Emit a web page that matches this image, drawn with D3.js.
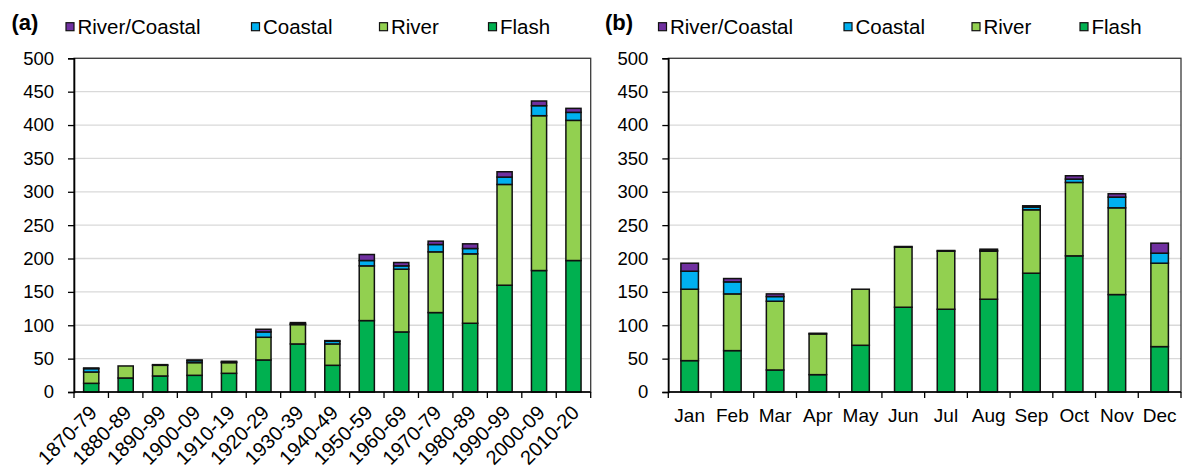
<!DOCTYPE html>
<html><head><meta charset="utf-8">
<script src="https://cdn.jsdelivr.net/npm/d3@7"></script>
<style>body{margin:0;background:#fff;}svg{display:block;font-family:"Liberation Sans",Arial,sans-serif;}</style>
</head><body><svg id="c" width="1186" height="468"></svg>
<script>
const seriesNames = ["Flash","River","Coastal","River/Coastal"];
const legendOrder = ["River/Coastal","Coastal","River","Flash"];
const colors = {"Flash":"#00B050","River":"#92D050","Coastal":"#00B0F0","River/Coastal":"#7030A0"};
const yTicks = [0,50,100,150,200,250,300,350,400,450,500];

const decades = ["1870-79","1880-89","1890-99","1900-09","1910-19","1920-29","1930-39","1940-49","1950-59","1960-69","1970-79","1980-89","1990-99","2000-09","2010-20"];
const flashA   = [13,21,24,25,28,48,72,40,107,90,119,103,160,182,197];
const riverA   = [17,18,16,19,16,34,29,32,82,94,91,104,151,232,210];
const coastalA = [5,0,0,3,1,8,1,4,8,5,11,8,11,15,12];
const rcA      = [1,0,1,1,1,4,2,1,9,5,5,7,8,7,6];

const months = ["Jan","Feb","Mar","Apr","May","Jun","Jul","Aug","Sep","Oct","Nov","Dec"];
const flashB   = [47,62,33,26,70,127,124,139,178,204,146,68];
const riverB   = [107,85,103,61,84,90,87,72,95,110,130,125];
const coastalB = [27,18,7,1,0,1,1,1,4,5,16,15];
const rcB      = [12,5,4,0,0,0,0,2,2,5,5,15];

const svg = d3.select("#c");

function panel(cfg){
  const {cats, vals, left, right, top, bottom, pad, tag, tagX, legX, rotate} = cfg;
  const g = svg.append("g");
  const x = d3.scaleBand().domain(cats).range([left,right]).paddingInner(pad).paddingOuter(pad/2);
  const y = d3.scaleLinear().domain([0,500]).range([bottom,top]);
  // gridlines
  g.append("g").selectAll("line").data(yTicks.filter(d=>d>0)).join("line")
    .attr("x1",left).attr("x2",right).attr("y1",d=>y(d)).attr("y2",d=>y(d))
    .attr("stroke","#d9d9d9").attr("stroke-width",1.3);
  // frame
  g.append("rect").attr("x",left).attr("y",top).attr("width",right-left).attr("height",bottom-top)
    .attr("fill","none").attr("stroke","#3a3a3a").attr("stroke-width",1.3);
  // bars
  const table = cats.map((c,i)=>{const o={cat:c}; seriesNames.forEach(s=>o[s]=vals[s][i]); return o;});
  const stacked = d3.stack().keys(seriesNames)(table);
  g.append("g").selectAll("g").data(stacked).join("g")
    .attr("fill",d=>colors[d.key])
    .selectAll("rect").data(d=>d).join("rect")
    .attr("x",d=>x(d.data.cat)).attr("width",x.bandwidth())
    .attr("y",d=>y(d[1])).attr("height",d=>y(d[0])-y(d[1]))
    .attr("stroke","#111").attr("stroke-width",1.5);
  // y axis
  const ya = d3.axisLeft(y).tickValues(yTicks).tickSize(6).tickPadding(14);
  const yg = g.append("g").attr("transform",`translate(${left},0)`).call(ya);
  yg.select(".domain").attr("stroke","#000").attr("stroke-width",1.6);
  yg.selectAll(".tick line").attr("stroke","#000").attr("stroke-width",1.3);
  yg.selectAll("text").attr("font-size","18.5px").attr("fill","#000").attr("font-family","Liberation Sans, Arial");
  // x axis line and ticks at boundaries
  g.append("line").attr("x1",left).attr("x2",right).attr("y1",bottom).attr("y2",bottom).attr("stroke","#000").attr("stroke-width",1.6);
  const bounds = cats.map(c=>x(c)-x.step()*pad/2).concat([right]);
  g.append("g").selectAll("line").data(bounds).join("line")
    .attr("x1",d=>d).attr("x2",d=>d).attr("y1",bottom).attr("y2",bottom+6).attr("stroke","#000").attr("stroke-width",1.3);
  // x labels
  const lab = g.append("g").selectAll("text").data(cats).join("text")
    .attr("font-size", rotate ? "20px" : "19px").attr("fill","#000").text(d=>d);
  if(rotate){
    lab.attr("text-anchor","end")
      .attr("transform",d=>`translate(${x(d)+x.bandwidth()/2+7},${bottom+22}) rotate(-45)`);
  } else {
    lab.attr("text-anchor","middle").attr("x",d=>x(d)+x.bandwidth()/2).attr("y",bottom+30);
  }
  // tag
  g.append("text").attr("x",tagX).attr("y",30).attr("font-size","22px").attr("font-weight","bold").text(tag);
  // legend
  const lg = g.append("g");
  legendOrder.forEach((s,i)=>{
    const lx = legX[i];
    lg.append("rect").attr("x",lx).attr("y",22.7).attr("width",8).attr("height",8)
      .attr("fill",colors[s]).attr("stroke","#111").attr("stroke-width",1.2);
    lg.append("text").attr("x",lx+11.5).attr("y",34).attr("font-size","20.5px").attr("fill","#000").text(s);
  });
}

panel({cats:decades, vals:{"Flash":flashA,"River":riverA,"Coastal":coastalA,"River/Coastal":rcA},
  left:74, right:590.7, top:58.3, bottom:392, pad:0.56, tag:"(a)", tagX:11.5, legX:[66,251.5,379.5,488.5], rotate:true});
panel({cats:months, vals:{"Flash":flashB,"River":riverB,"Coastal":coastalB,"River/Coastal":rcB},
  left:668.3, right:1181, top:58.3, bottom:392, pad:0.59, tag:"(b)", tagX:605, legX:[658.5,844,972,1080], rotate:false});
</script></body></html>
